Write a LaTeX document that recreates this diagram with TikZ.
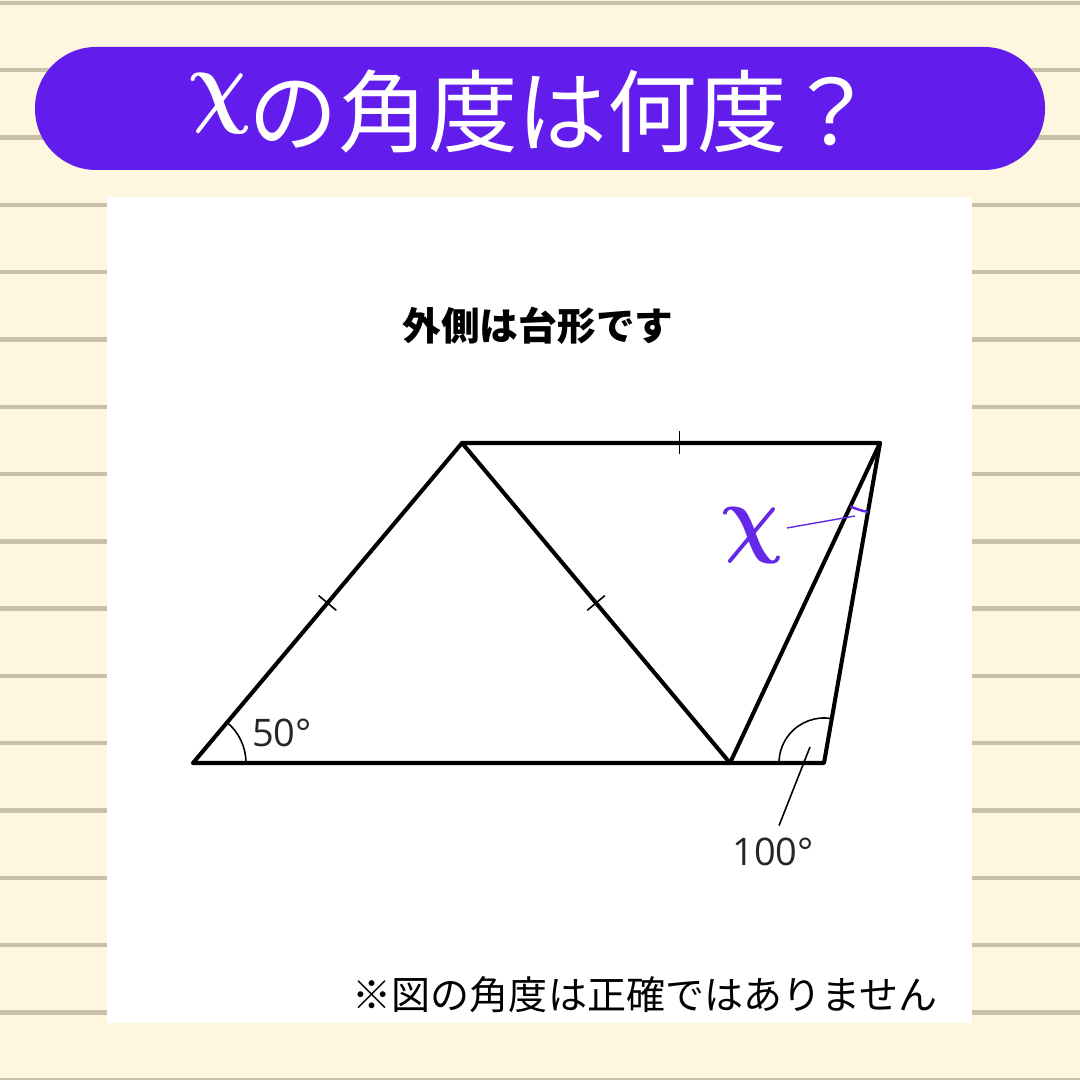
\documentclass[tikz,border=0pt]{standalone}
\usepackage{fontspec}
\usepackage{graphicx}
\newfontfamily\jp{Noto Sans CJK JP}
\newfontfamily\os{Open Sans}
\usetikzlibrary{calc}
\definecolor{bg}{HTML}{FFF6E0}
\definecolor{rulec}{HTML}{C9C0A9}
\definecolor{ban}{HTML}{621CEB}
\definecolor{xcol}{HTML}{6428E6}
\begin{document}
\begin{tikzpicture}[x=0.01cm,y=0.01cm,
  fig/.style={line width=1.15pt, line cap=round, line join=round},
  thinline/.style={line width=0.45pt},
  tickmark/.style={line width=0.45pt}]
\fill[bg] (0,0) rectangle (1080,1080);
\useasboundingbox (0,0) rectangle (1080,1080);
\foreach \k in {0,...,16} {
  \fill[rulec] (0,{1080-3-67.3*\k-2.2}) rectangle (1080,{1080-3-67.3*\k+2.2});
}
% banner
\fill[ban, rounded corners=0.61cm] (35,910) rectangle (1045,1033);
\node[text=white, inner sep=0, xslant=-0.12, transform shape] (tx) at (220,976) {\scalebox{0.95}[1.08]{\fontsize{34}{40}\selectfont\boldmath$\chi$}};
\node[text=white, anchor=base west, inner sep=0, font=\jp\fontsize{25.5}{30}\selectfont] (title) at (248,934) {の角度は何度？};
% panel
\fill[white] (107,57) rectangle (972,883);
\node[font=\jp\bfseries\fontsize{11}{13}\selectfont] (head) at (538,754) {外側は台形です};
\node[font=\jp\fontsize{11.1}{13}\selectfont] (note) at (645,85) {※図の角度は正確ではありません};
% figure
\coordinate (A) at (193,317);
\coordinate (B) at (462,637);
\coordinate (C) at (880,637);
\coordinate (D) at (730,317);
\coordinate (E) at (824,317);
\draw[fig] (A) -- (B) -- (C) -- (E) -- (A);
\draw[fig] (B) -- (D) -- (C);
% ticks
\coordinate (M1) at ($(A)!0.5!(B)$);
\coordinate (M2) at ($(B)!0.5!(D)$);
\coordinate (M3) at ($(B)!0.52!(C)$);
\draw[tickmark] ($(M1)!0.115cm!90:(B)$) -- ($(M1)!0.115cm!-90:(B)$);
\draw[tickmark] ($(M2)!0.115cm!90:(D)$) -- ($(M2)!0.115cm!-90:(D)$);
\draw[tickmark] ($(M3)!0.115cm!90:(C)$) -- ($(M3)!0.115cm!-90:(C)$);
% angles
\draw[thinline] ([shift={(0:53)}]A) arc (0:50:53);
\draw[thinline] ([shift={(80:45)}]E) arc (80:180:45);
\draw[thinline, xcol, line width=0.7pt] ([shift={(245:70)}]C) arc (245:260:70);
% labels
\node[font=\os\fontsize{10.8}{13}\selectfont, text=black!85] (l50) at (282,347) {50°};
\node[font=\os\fontsize{10.8}{13}\selectfont, text=black!85] (l100) at (773,228) {100°};
\coordinate (p1) at (810,333);
\draw[thinline] (p1) -- (l100.north -| 779,0);
\node[text=xcol, inner sep=0, xslant=-0.12, transform shape] (lx) at (752,544) {\scalebox{0.95}[1]{\fontsize{25}{30}\selectfont\boldmath$\chi$}};
\coordinate (p2) at (855,564);
\draw[xcol, line width=0.4pt] (787,552) -- (p2);
\end{tikzpicture}
\end{document}
